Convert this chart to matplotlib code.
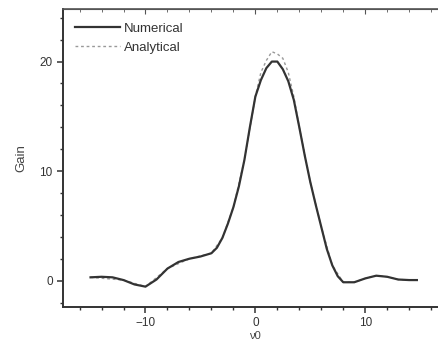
import matplotlib.pyplot as plt
from matplotlib.ticker import MultipleLocator

plt.rcParams['font.family'] = ['Liberation Sans', 'DejaVu Sans']

# detuning values and gain
x_num = [-15, -14, -13, -12, -11, -10, -9, -8, -7, -6, -5, -4, -3.5, -3, -2.5, -2, -1.5, -1,
         -0.5, 0, 0.5, 1, 1.5, 2, 2.5, 3, 3.5, 4, 4.5, 5, 5.5, 6, 6.5, 7, 7.5, 8, 9, 10,
         11, 12, 13, 14, 14.7]
gain_num = [0.3, 0.35, 0.3, 0.05, -0.35, -0.55, 0.1, 1.1, 1.7, 2.0, 2.2, 2.5, 3.0, 3.9, 5.2, 6.7,
            8.6, 11.0, 14.0, 16.8, 18.3, 19.4, 20.0, 20.0, 19.3, 18.2, 16.5, 14.0, 11.4, 9.0,
            6.9, 4.9, 2.9, 1.4, 0.4, -0.15, -0.15, 0.2, 0.45, 0.35, 0.1, 0.05, 0.05]

x_ana = [-15, -12, -10, -8, -6, -4, -3, -2, -1, 0, 0.5, 1, 1.5, 2, 2.5, 3, 3.5, 4, 5, 6, 7,
         8, 9, 10, 11, 12, 13, 14.7]
gain_ana = [0.3, 0.05, -0.55, 1.1, 2.0, 2.5, 3.9, 6.7, 11.0, 16.8, 19.0, 20.1, 20.9, 20.7, 20.3,
            19.0, 16.8, 14.0, 9.0, 4.9, 1.4, -0.15, -0.15, 0.2, 0.45, 0.35, 0.1, 0.05]

fig = plt.figure(figsize=(4.38, 3.46), dpi=100)
ax = fig.add_axes([0.144, 0.113, 0.878, 0.861])

ax.plot(x_ana, gain_ana, color='#999999', linestyle=(0, (2, 2)), linewidth=1.0,
        label='Analytical', zorder=1)
ax.plot(x_num, gain_num, color='#333333', linewidth=1.6, label='Numerical', zorder=2)

ax.set_xlim(-17.5, 17.5)
ax.set_ylim(-2.4, 24.8)
ax.xaxis.set_major_locator(MultipleLocator(10))
ax.xaxis.set_minor_locator(MultipleLocator(2))
ax.yaxis.set_major_locator(MultipleLocator(10))
ax.yaxis.set_minor_locator(MultipleLocator(2))
ax.tick_params(which='major', direction='out', length=4, width=1.1, labelsize=8.5,
               colors='#333333')
ax.tick_params(which='minor', direction='out', length=2.5, width=1.0, colors='#333333')

top = ax.secondary_xaxis('top')
top.xaxis.set_major_locator(MultipleLocator(10))
top.xaxis.set_minor_locator(MultipleLocator(2))
top.tick_params(which='both', direction='in', labeltop=False, colors='#555555')
top.tick_params(which='major', length=3.5)
top.tick_params(which='minor', length=2.5)
top.spines['top'].set_color('#555555')

for side in ['left', 'bottom']:
    ax.spines[side].set_linewidth(1.4)
    ax.spines[side].set_color('#333333')
ax.spines['right'].set_visible(False)
ax.spines['top'].set_linewidth(1.2)
ax.spines['top'].set_color('#555555')

ax.set_xlabel('ν0', fontsize=8, color='#444444', labelpad=1)
ax.set_ylabel('Gain', fontsize=9.5, color='#444444', labelpad=9)

handles, labels = ax.get_legend_handles_labels()
ax.legend(handles[::-1], labels[::-1], loc='upper left', bbox_to_anchor=(0.0, 0.995),
          frameon=False, fontsize=9.5, handlelength=3.4, handletextpad=0.3,
          labelspacing=0.55, borderaxespad=0.5, labelcolor='#333333')

fig.savefig('out.png', dpi=100)
